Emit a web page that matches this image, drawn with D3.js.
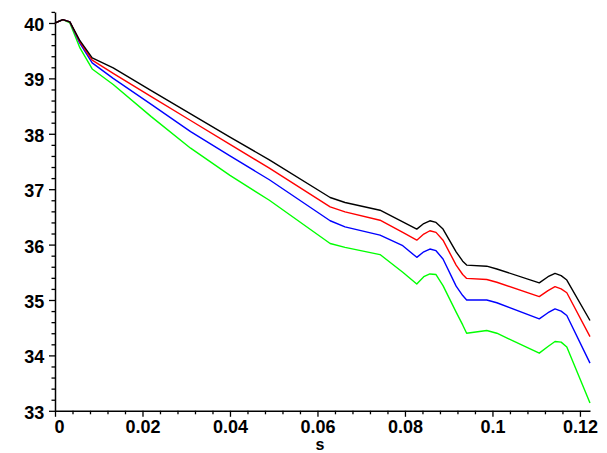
<!DOCTYPE html>
<html>
<head>
<meta charset="utf-8">
<script src="https://cdn.jsdelivr.net/npm/d3@7/dist/d3.min.js"></script>
<style>
  html, body { margin: 0; padding: 0; background: #fff; }
  svg { display: block; }
</style>
</head>
<body>
<svg id="chart" width="607" height="453"></svg>
<script>
// ---- data ----
const sValues = [0, 0.0018, 0.0034, 0.0057, 0.0085, 0.0133, 0.022, 0.031, 0.04, 0.049, 0.0629, 0.0663, 0.0743, 0.0795, 0.0827, 0.0843, 0.0857, 0.0871, 0.0887, 0.0917, 0.0932, 0.0941, 0.0987, 0.101, 0.1107, 0.1127, 0.1143, 0.1157, 0.117, 0.1223];
const blackSeries = [40.0, 40.06, 40.02, 39.68, 39.37, 39.19, 38.78, 38.36, 37.94, 37.53, 36.85, 36.76, 36.62, 36.41, 36.28, 36.38, 36.43, 36.40, 36.28, 35.87, 35.70, 35.63, 35.61, 35.56, 35.31, 35.42, 35.48, 35.44, 35.36, 34.63];
const redSeries   = [40.0, 40.06, 40.02, 39.66, 39.33, 39.09, 38.67, 38.24, 37.81, 37.38, 36.68, 36.59, 36.44, 36.22, 36.08, 36.19, 36.25, 36.22, 36.08, 35.63, 35.46, 35.39, 35.37, 35.32, 35.06, 35.17, 35.24, 35.20, 35.13, 34.34];
const blueSeries  = [40.0, 40.06, 40.02, 39.63, 39.28, 39.0, 38.53, 38.04, 37.6, 37.17, 36.43, 36.32, 36.17, 35.98, 35.77, 35.87, 35.92, 35.89, 35.74, 35.25, 35.08, 35.0, 35.0, 34.95, 34.66, 34.77, 34.84, 34.80, 34.72, 33.86];
const greenSeries = [40.0, 40.06, 40.0, 39.55, 39.17, 38.89, 38.31, 37.74, 37.25, 36.8, 36.02, 35.95, 35.82, 35.5, 35.29, 35.42, 35.47, 35.46, 35.26, 34.78, 34.55, 34.40, 34.45, 34.40, 34.04, 34.16, 34.25, 34.24, 34.15, 33.14];
const xTickLabels = ["0", "0.02", "0.04", "0.06", "0.08", "0.1", "0.12"];
const xTicks = [0, 0.02, 0.04, 0.06, 0.08, 0.1, 0.12];
const yTicks = [33, 34, 35, 36, 37, 38, 39, 40];
const xLabel = "s";

const series = [
  { name: "black", values: blackSeries, color: "#000000" },
  { name: "red", values: redSeries, color: "#ff0000" },
  { name: "blue", values: blueSeries, color: "#0000ff" },
  { name: "green", values: greenSeries, color: "#00ff00" }
];

// ---- layout ----
const svg = d3.select("#chart");
const x = d3.scaleLinear().domain([0, 0.1223]).range([55, 590]);
const y = d3.scaleLinear().domain([33, 40.2]).range([410.8, 11.9]);

const font = "'Liberation Sans', Arial, sans-serif";

// minor ticks
const xMinor = d3.range(0, 0.1201, 0.004).filter(v => !xTicks.some(t => Math.abs(t - v) < 1e-9));
const yMinor = d3.range(33, 40.21, 0.2).filter(v => !yTicks.some(t => Math.abs(t - v) < 1e-9));

// x axis
const xAxisG = svg.append("g").attr("transform", `translate(0,${y(33)})`);
xAxisG.call(d3.axisBottom(x).tickValues(xTicks).tickSize(6).tickSizeOuter(0)
  .tickFormat((d, i) => xTickLabels[i]));
xAxisG.append("g").call(d3.axisBottom(x).tickValues(xMinor).tickSize(3.5).tickSizeOuter(0).tickFormat(""))
  .select(".domain").remove();
xAxisG.selectAll("text")
  .attr("font-family", font).attr("font-weight", "bold").attr("font-size", 18)
  .attr("fill", "#000").attr("y", 8).attr("dy", "0.8em");
xAxisG.selectAll(".tick text").filter((d) => d === 0).attr("text-anchor", "start").attr("dx", -1);
xAxisG.selectAll(".domain").attr("stroke", "#000").attr("stroke-width", 1.5);
xAxisG.selectAll(".tick line").attr("stroke", "#000").attr("stroke-width", 1.3);

// y axis
const yAxisG = svg.append("g").attr("transform", `translate(${x(0)},0)`);
yAxisG.call(d3.axisLeft(y).tickValues(yTicks).tickSize(6).tickSizeOuter(0).tickFormat(d3.format("d")));
yAxisG.append("g").call(d3.axisLeft(y).tickValues(yMinor).tickSize(3.5).tickSizeOuter(0).tickFormat(""))
  .select(".domain").remove();
yAxisG.selectAll("text")
  .attr("font-family", font).attr("font-weight", "bold").attr("font-size", 18)
  .attr("fill", "#000").attr("dx", "-0.1em").attr("dy", "0.42em");
yAxisG.selectAll(".domain").attr("stroke", "#000").attr("stroke-width", 1.5);
yAxisG.selectAll(".tick line").attr("stroke", "#000").attr("stroke-width", 1.3);

// x label
svg.append("text")
  .attr("x", 320).attr("y", 450)
  .attr("text-anchor", "middle")
  .attr("font-family", font).attr("font-weight", "bold").attr("font-size", 16)
  .text(xLabel);

// lines
const line = d3.line()
  .x((d, i) => x(sValues[i]))
  .y(d => y(d));

svg.append("g").selectAll("path")
  .data(series.slice().reverse())
  .join("path")
  .attr("d", d => line(d.values))
  .attr("fill", "none")
  .attr("stroke", d => d.color)
  .attr("stroke-width", 1.4)
  .attr("stroke-linejoin", "round");
</script>
</body>
</html>
